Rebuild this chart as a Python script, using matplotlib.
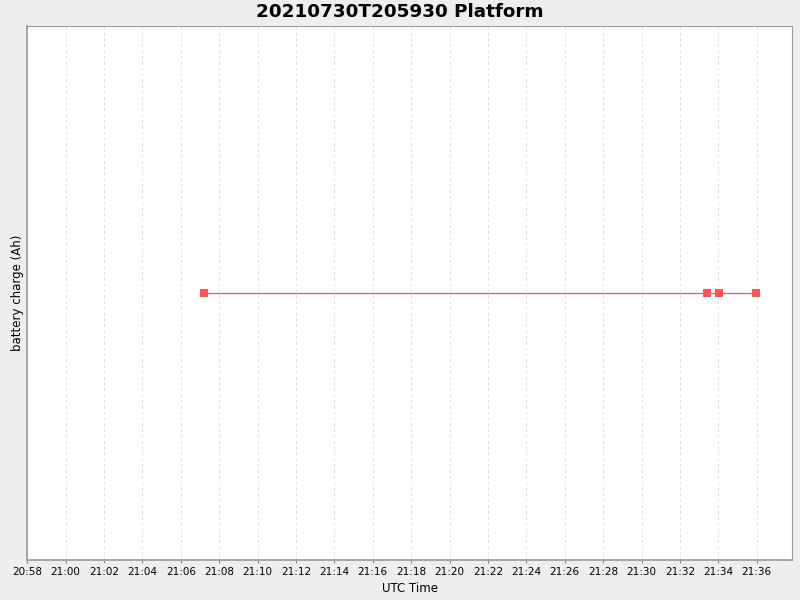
import datetime as dt
import matplotlib
matplotlib.use("Agg")
import matplotlib.pyplot as plt
import matplotlib.dates as mdates

# sample times (UTC) and battery charge readings
times = ["2021-07-30 21:07:13", "2021-07-30 21:33:25",
         "2021-07-30 21:34:02", "2021-07-30 21:35:58"]
charge = [0.0, 0.0, 0.0, 0.0]

xstart = "2021-07-30 20:58:00"
xend = "2021-07-30 21:37:50"

fmt = "%Y-%m-%d %H:%M:%S"
t = [dt.datetime.strptime(s, fmt) for s in times]

fig = plt.figure(figsize=(8, 6), dpi=100, facecolor="#eeeeee")
ax = fig.add_axes([0.034, 0.0667, 0.956, 0.89])
ax.set_facecolor("white")

ax.plot(t, charge, color="#ff5555", lw=0.9, marker="s", ms=6,
        markeredgewidth=0, zorder=3)

ax.set_xlim(dt.datetime.strptime(xstart, fmt), dt.datetime.strptime(xend, fmt))
ax.set_ylim(-1, 1)
ax.xaxis.set_major_locator(mdates.MinuteLocator(byminute=range(0, 60, 2)))
ax.xaxis.set_major_formatter(mdates.DateFormatter("%H:%M"))
ax.tick_params(axis="x", labelsize=7.5, length=2, color="#888888", pad=3)
ax.set_yticks([])

ax.grid(axis="x", color="#e0e0e0", ls=(0, (3, 3)), lw=0.7)
for side in ["left", "bottom", "right", "top"]:
    ax.spines[side].set_color("#999999")
ax.spines["left"].set_linewidth(1.2)
ax.spines["bottom"].set_linewidth(1.2)

# title is centred on the whole figure, not on the plot area
fig.text(0.5, 0.98, "20210730T205930 Platform", fontsize=13.2,
         fontweight="bold", ha="center", va="center")
ax.set_xlabel("UTC Time", fontsize=8.5, labelpad=4)
ax.set_ylabel("battery charge (Ah)", fontsize=8.5, labelpad=2)

fig.savefig("out.png", dpi=100, facecolor=fig.get_facecolor())
